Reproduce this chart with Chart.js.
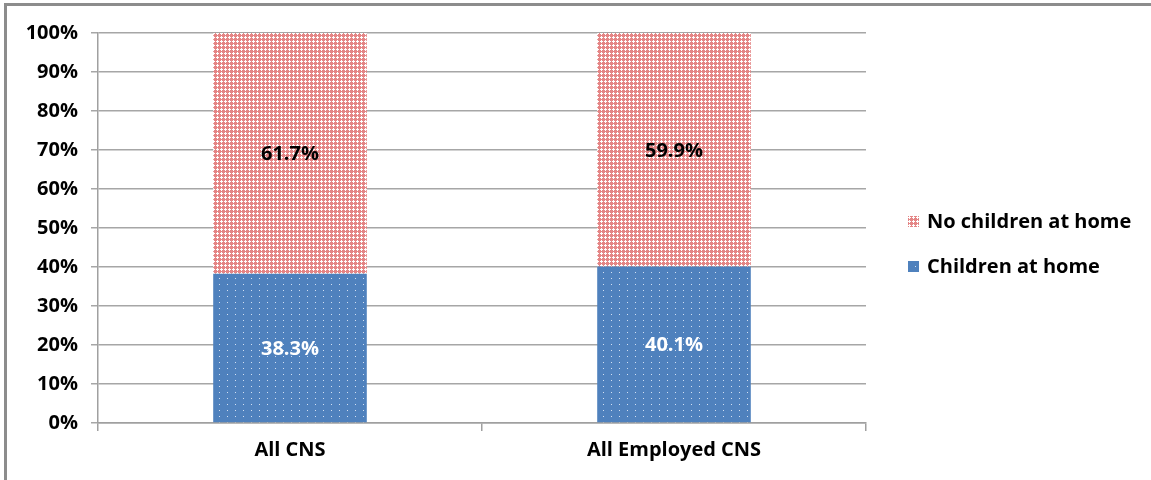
<!DOCTYPE html>
<html>
<head>
<meta charset="utf-8">
<script src="https://cdn.jsdelivr.net/npm/chart.js@4"></script>
<style>
    body { margin: 0; background: #fff; overflow: hidden; }
    #frame {
        position: absolute; left: 4px; top: 3px; width: 1200px; height: 520px;
        border-top: 3px solid #8c8c8c; border-left: 3px solid #8c8c8c;
    }
    #chart { position: absolute; left: 0; top: 0; }
</style>
</head>
<body>
<div id="frame"></div>
<canvas id="chart" width="1151" height="480"></canvas>
<script>
const categories = ["All CNS", "All Employed CNS"];
const childrenAtHome = [38.3, 40.1];
const noChildrenAtHome = [61.7, 59.9];
const yTicks = [0, 10, 20, 30, 40, 50, 60, 70, 80, 90, 100];

const FONT = "'Open Sans', sans-serif";

function makePattern(type) {
    const c = document.createElement("canvas");
    const g = c.getContext("2d");
    if (type === "cross") {
        c.width = 4; c.height = 4;
        g.fillStyle = "#e48585";
        g.fillRect(0, 0, 4, 4);
        g.fillStyle = "#ffffff";
        g.fillRect(1, 0, 1, 3);
        g.fillRect(0, 1, 3, 1);
    } else {
        c.width = 8; c.height = 6;
        g.fillStyle = "#4f81bd";
        g.fillRect(0, 0, 8, 6);
        g.fillStyle = "#d3e0f2";
        g.fillRect(3, 2, 1, 1);
    }
    return g.createPattern(c, "repeat");
}

const blueDots = makePattern("dots");
const redCross = makePattern("cross");

// value labels in the middle of each segment
const barLabels = {
    id: "barLabels",
    afterDatasetsDraw(chart) {
        const ctx = chart.ctx;
        ctx.save();
        ctx.font = "bold 20px " + FONT;
        ctx.textAlign = "center";
        ctx.textBaseline = "middle";
        chart.data.datasets.forEach((ds, i) => {
            const meta = chart.getDatasetMeta(i);
            meta.data.forEach((bar, j) => {
                ctx.fillStyle = ds.labelColor;
                ctx.fillText(ds.data[j].toFixed(1) + "%", bar.x, (bar.y + bar.base) / 2 + 1);
            });
        });
        ctx.restore();
    }
};

// legend on the right, top item = last dataset
const sideLegend = {
    id: "sideLegend",
    afterDraw(chart) {
        const ctx = chart.ctx;
        const items = chart.data.datasets.slice().reverse();
        ctx.save();
        ctx.font = "bold 20px " + FONT;
        ctx.textBaseline = "middle";
        ctx.textAlign = "left";
        items.forEach((ds, i) => {
            const y = 222 + i * 45;
            ctx.fillStyle = ds.backgroundColor;
            ctx.fillRect(908, y - 6, 11, 11);
            ctx.fillStyle = "#000";
            ctx.fillText(ds.label, 927, y);
        });
        ctx.restore();
    }
};

const ctx = document.getElementById("chart");

new Chart(ctx, {
    type: "bar",
    data: {
        labels: categories,
        datasets: [{
            label: "Children at home",
            data: childrenAtHome,
            backgroundColor: blueDots,
            labelColor: "#ffffff",
            borderWidth: 0
        }, {
            label: "No children at home",
            data: noChildrenAtHome,
            backgroundColor: redCross,
            labelColor: "#000000",
            borderWidth: 0
        }]
    },
    options: {
        responsive: false,
        animation: false,
        events: [],
        layout: {
            padding: { top: 33, right: 285, left: 0, bottom: 0 }
        },
        datasets: {
            bar: { categoryPercentage: 1, barPercentage: 0.4 }
        },
        plugins: {
            legend: { display: false },
            tooltip: { enabled: false }
        },
        scales: {
            x: {
                stacked: true,
                afterFit: (s) => { s.height = 57; },
                grid: {
                    offset: true,
                    drawOnChartArea: false,
                    drawTicks: true,
                    tickLength: 8,
                    color: "#a0a0a0",
                    lineWidth: 1.5
                },
                border: { display: true, color: "#a0a0a0", width: 1.5 },
                ticks: {
                    color: "#000",
                    padding: 7,
                    font: { family: FONT, size: 20, weight: "bold" }
                }
            },
            y: {
                stacked: true,
                min: 0,
                max: 100,
                afterFit: (s) => { s.width = 98; },
                afterBuildTicks: (s) => { s.ticks = yTicks.map(v => ({ value: v })); },
                grid: {
                    color: "#a6a6a6",
                    lineWidth: 1.5,
                    tickLength: 7
                },
                border: { display: true, color: "#a0a0a0", width: 1.5 },
                ticks: {
                    color: "#000",
                    padding: 13,
                    font: { family: FONT, size: 20, weight: "bold" },
                    callback: (v) => v + "%"
                }
            }
        }
    },
    plugins: [barLabels, sideLegend]
});
</script>
</body>
</html>
